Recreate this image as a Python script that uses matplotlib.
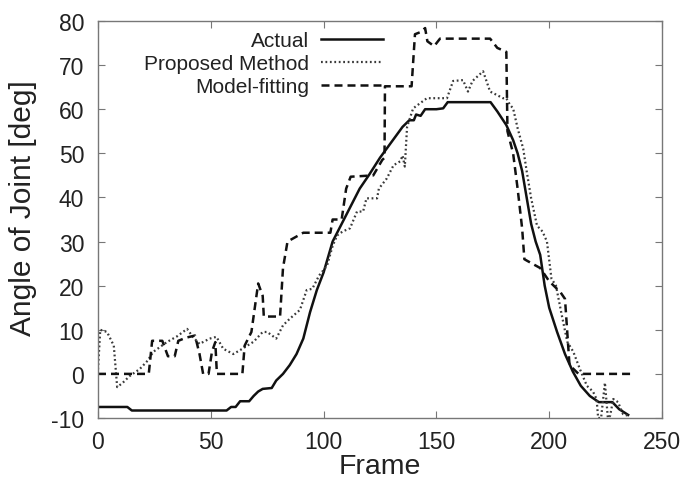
import matplotlib
matplotlib.use("Agg")
import matplotlib.pyplot as plt

plt.rcParams['font.family'] = ['Liberation Sans', 'DejaVu Sans']
plt.rcParams['axes.unicode_minus'] = False

# ---- data ----
actual_frames = [0, 13, 15, 57, 59, 61, 63, 67, 69, 71, 73, 77, 79, 82, 85, 88, 91, 94, 97, 100,
                 104, 108, 112, 116, 120, 125, 130, 135, 138, 140, 141, 143, 145, 150, 153, 155,
                 174, 177, 181, 184, 186, 188, 190, 192, 194, 196, 198, 200, 203.5, 207, 210.5,
                 214, 218, 222, 228, 231, 235]
actual_vals = [-7.5, -7.5, -8.3, -8.3, -7.5, -7.5, -6.2, -6.2, -5, -4, -3.4, -3.2, -1.5, 0, 2, 4.5,
               8, 14, 19, 23, 30, 34, 38, 42, 45, 49, 52.5, 56, 57.5, 57.5, 58.8, 58.5, 60, 60,
               60.2, 61.6, 61.6, 59.5, 56.4, 53, 50, 46, 40, 34, 30, 27, 20, 15, 9.5, 4.5, 0.5,
               -2.7, -5, -6.4, -6.4, -8, -9.3]

proposed_frames = [0, 1, 4, 7, 8.5, 11, 14, 18.5, 22, 24.5, 30.5, 35, 39.5, 42, 45, 49.5, 52.5,
                   55.5, 60, 64, 69, 73, 75, 79, 82, 85, 89.5, 92.5, 95, 98, 101.5, 104, 106,
                   108.5, 111.7, 114.8, 117.5, 119, 123.7, 124.5, 128, 131, 134, 135, 136, 137,
                   139.7, 145.8, 151.6, 154.7, 157.4, 161.8, 164, 166, 170.7, 173.8, 176.9,
                   179.5, 181, 182.6, 184, 186, 188.5, 190, 192, 194.6, 197, 199, 201, 203,
                   205.7, 208, 210.7, 213.6, 216.7, 219.4, 221, 221.7, 223, 224.7, 226, 227,
                   228.4, 230.5, 232.7, 235]
proposed_vals = [1, 10, 9.5, 6.4, -3, -2, -0.5, 1.1, 3, 5, 7.2, 8.5, 10.2, 8.4, 6.8, 8, 8.4, 5.7,
                 4.5, 5.7, 7.3, 9.5, 9.5, 8, 11, 12.5, 14.5, 19, 19.3, 22.3, 24.5, 29, 31.4, 32.3,
                 33, 36.8, 36.8, 39.8, 39.8, 42, 44.3, 47.3, 48.2, 49.5, 47, 56, 60.2, 62.5, 62.5,
                 62.5, 66.4, 66.6, 64, 66.4, 68.6, 64, 63.2, 62.5, 62.5, 61, 60.2, 55.7, 51, 46,
                 39.8, 33.6, 32.3, 30, 21.6, 20, 13, 7.3, 5, 1.1, -2.7, -4, -5.7, -10, -10, -2,
                 -10, -9.5, -5.7, -6.4, -9.1, -9.5]

model_frames = [0, 22.5, 24, 28.5, 31, 34, 35.6, 39, 43, 45, 46.6, 49, 50.5, 52, 52.7, 64, 65, 68,
                71, 73, 73.5, 80.7, 82, 84, 91, 103, 104, 108, 110, 112, 122, 126, 127, 127.2,
                139, 140.5, 143, 145, 146, 149, 151.6, 173.8, 177, 181, 181.5, 184, 186, 188,
                189, 190, 196, 200, 205, 207, 209, 213, 236]
model_vals = [0, 0, 7.5, 7.5, 4, 4, 7.5, 8.2, 8.7, 4.5, 0, 0, 5, 7.2, 0, 0, 6.4, 9.5, 20.5, 17.7,
              13, 13, 24, 30, 32, 32, 35, 35, 42, 44.7, 45, 48.5, 49, 65.2, 65.2, 77, 77.5, 78.4,
              75.4, 74.3, 76, 76, 73.9, 73, 55, 50, 42, 33, 26, 25.7, 24, 21, 18.5, 17, 2, 0, 0]

labels = ["Actual", "Proposed Method", "Model-fitting"]
xticks = [0, 50, 100, 150, 200, 250]
yticks = [-10, 0, 10, 20, 30, 40, 50, 60, 70, 80]

# ---- figure ----
fig = plt.figure(figsize=(6.85, 4.89), dpi=100)
ax = fig.add_axes([98 / 685, 70 / 489, 564 / 685, 397 / 489])

ax.plot(actual_frames, actual_vals, color="#111111", lw=1.8, ls="-", label=labels[0])
ax.plot(proposed_frames, proposed_vals, color="#3a3a3a", lw=1.6, ls=(0, (0.8, 1.2)),
        label=labels[1])
ax.plot(model_frames, model_vals, color="#111111", lw=1.8, ls=(0, (3.2, 2.0)), label=labels[2])

ax.set_xlim(0, 250)
ax.set_ylim(-10, 80)
ax.set_xticks(xticks)
ax.set_yticks(yticks)
ax.tick_params(direction="in", length=5, width=0.8, color="#777777",
               top=True, right=True, labelsize=16.5, labelcolor="#222222")
ax.tick_params(axis="x", pad=9)
ax.tick_params(axis="y", pad=10)
for s in ax.spines.values():
    s.set_color("#777777")
    s.set_linewidth(1.0)

ax.set_xlabel("Frame", fontsize=20.5, labelpad=0, color="#222222")
ax.set_ylabel("Angle of Joint [deg]", fontsize=21.5, color="#222222")
ax.yaxis.set_label_coords(-0.108, 0.53)

leg = ax.legend(loc="upper right", bbox_to_anchor=(0.513, 0.985), frameon=False,
                markerfirst=False, fontsize=15, handlelength=3.0, handletextpad=0.55,
                labelspacing=0.2, borderaxespad=0, borderpad=0.2)
for t in leg.get_texts():
    t.set_color("#222222")

fig.savefig("out.png", dpi=100, facecolor="white")
